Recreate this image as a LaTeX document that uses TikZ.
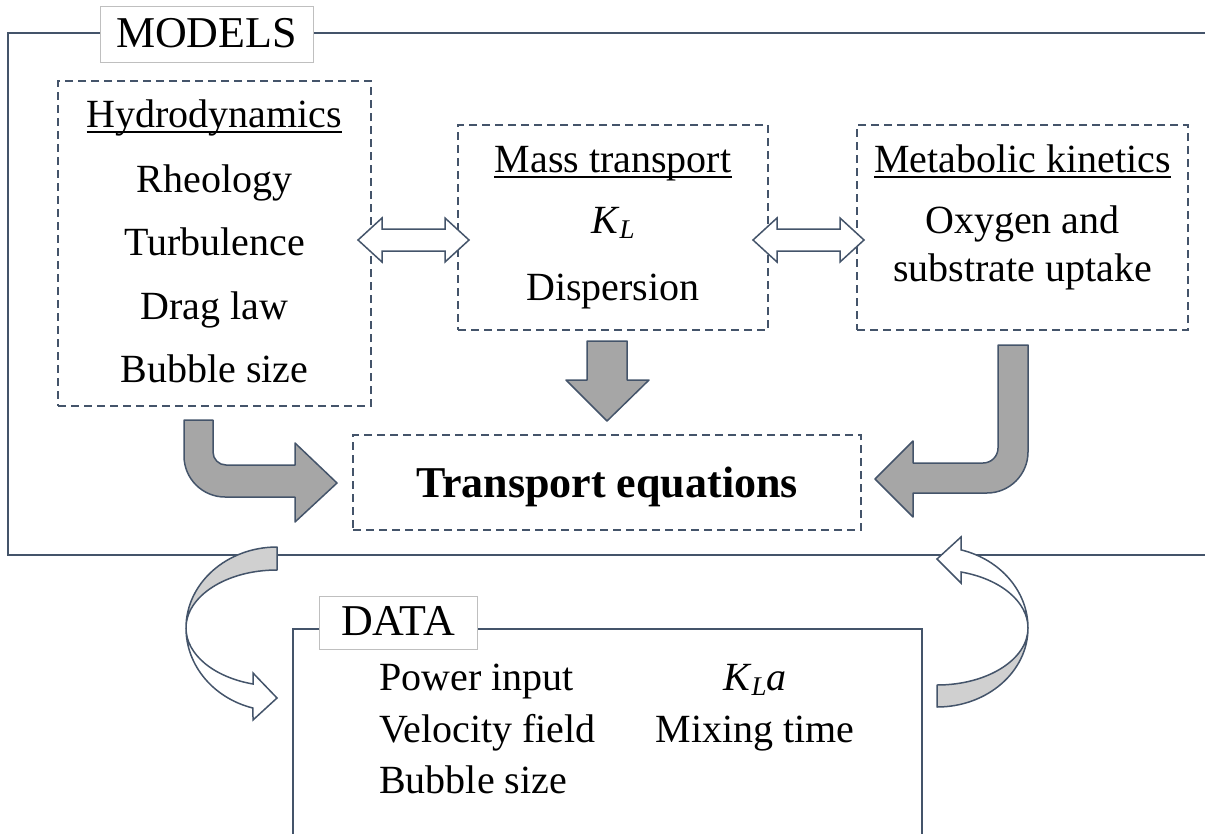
\documentclass[tikz,border=0pt]{standalone}
\usepackage{fontspec}
\setmainfont{Liberation Serif}
\definecolor{slate}{HTML}{44546A}
\definecolor{arrowgrey}{HTML}{A6A6A6}
\definecolor{bandgrey}{HTML}{D0D0D0}
\definecolor{tagline}{HTML}{BFBFBF}
\tikzset{
  frame/.style={draw=slate, line width=2pt},
  dbox/.style={draw=slate, line width=1.8pt, dash pattern=on 8pt off 5pt, inner sep=0pt},
  tag/.style={draw=tagline, fill=white, line width=1pt, inner sep=0pt},
  txt/.style={font=\fontsize{40}{48}\selectfont, inner sep=0pt, anchor=base},
  bigtxt/.style={font=\fontsize{44}{52}\selectfont, inner sep=0pt, anchor=base},
  ulinestyle/.style={line width=1.6pt},
  solidarrow/.style={draw=slate, fill=arrowgrey, line width=1.5pt, line join=round},
  hollowarrow/.style={draw=slate, fill=white, line width=1.5pt, line join=miter},
  bandback/.style={draw=slate, fill=bandgrey, line width=1.5pt, line join=round},
}
\newcommand{\KL}{\textit{K}\raisebox{-0.3ex}{\fontsize{27}{30}\selectfont\textit{L}}}
\begin{document}
\begin{tikzpicture}[x=1pt,y=-1pt]
\useasboundingbox (0,0) rectangle (1205,833);
\clip (0,0) rectangle (1205,833);

% outer frames
\draw[frame] (1215,33) -- (8,33) -- (8,555) -- (1215,555);
\draw[frame] (293,845) -- (293,629) -- (922,629) -- (922,845);

% frame titles
\node[tag, minimum width=213pt, minimum height=56pt] (modelstag) at (206.5,34) {};
\node[bigtxt] (models) at (206.5,47) {MODELS};
\node[tag, minimum width=158pt, minimum height=53pt] (datatag) at (398,622.5) {};
\node[bigtxt] (data) at (398,635) {DATA};

% dashed model boxes
\node[dbox, minimum width=313pt, minimum height=325pt] (hydro) at (214.5,243.5) {};
\node[dbox, minimum width=310pt, minimum height=205pt] (mass) at (613,227.5) {};
\node[dbox, minimum width=331pt, minimum height=205pt] (metab) at (1022.5,227.5) {};
\node[dbox, minimum width=508pt, minimum height=95pt] (transport) at (607,482.5) {};

% hydrodynamics
\node[txt] (hydrotitle) at (214.5,127) {Hydrodynamics};
\draw[ulinestyle] ([yshift=-5pt]hydrotitle.base west) -- ([yshift=-5pt]hydrotitle.base east);
\node[txt] (rheo) at (214.5,192) {Rheology};
\node[txt] (turb) at (214.5,255.5) {Turbulence};
\node[txt] (drag) at (214.5,319) {Drag law};
\node[txt] (bubble) at (214.5,382) {Bubble size};

% mass transport
\node[txt] (masstitle) at (613,172) {Mass transport};
\draw[ulinestyle] ([yshift=-5pt]masstitle.base west) -- ([yshift=-5pt]masstitle.base east);
\node[txt] (kl) at (613,233) {\KL};
\node[txt] (disp) at (613,300) {Dispersion};

% metabolic kinetics
\node[txt] (metabtitle) at (1022.5,172) {Metabolic kinetics};
\draw[ulinestyle] ([yshift=-5pt]metabtitle.base west) -- ([yshift=-5pt]metabtitle.base east);
\node[txt] (oxy) at (1022.5,233) {Oxygen and};
\node[txt] (subs) at (1022.5,281) {substrate uptake};

% transport equations
\node[bigtxt, font=\fontsize{44}{52}\selectfont\bfseries] (eqs) at (607,497) {Transport equations};

% data entries
\node[txt, anchor=base west] (power) at (379,690) {Power input};
\node[txt, anchor=base west] (velo) at (379,742) {Velocity field};
\node[txt, anchor=base west] (bsize) at (379,793) {Bubble size};
\node[txt] (kla) at (755,690) {\KL\textit{a}};
\node[txt] (mix) at (755,742) {Mixing time};

% two-headed coupling arrows
\draw[hollowarrow] (358,240) -- (382,218) -- (382,229) -- (445,229) -- (445,218) -- (469,240)
  -- (445,262) -- (445,251) -- (382,251) -- (382,262) -- cycle;
\draw[hollowarrow] (753,240) -- (777,218) -- (777,229) -- (840,229) -- (840,218) -- (864,240)
  -- (840,262) -- (840,251) -- (777,251) -- (777,262) -- cycle;

% block arrows into the transport equations
\draw[solidarrow] (587,341) -- (627,341) -- (627,380) -- (649,380) -- (607,421) -- (566,380) -- (587,380) -- cycle;
\draw[solidarrow] (184,420) -- (213,420) -- (213,452) .. controls (213,459.2) and (218.8,465) .. (226,465)
  -- (295,465) -- (295,443) -- (337,483) -- (295,522) -- (295,497) -- (225,497)
  .. controls (202.4,497) and (184,478.6) .. (184,456) -- cycle;
\draw[solidarrow] (998,345) -- (1028,345) -- (1028,452) .. controls (1028,474.6) and (1009.6,493) .. (987,493)
  -- (913,493) -- (913,517) -- (875,479) -- (913,441) -- (913,463) -- (983,463)
  .. controls (991.3,463) and (998,456.3) .. (998,448) -- cycle;

% curved arrow from models down to data
\draw[bandback] (277,547) arc[start angle=270, end angle=180, x radius=91, y radius=81]
  arc[start angle=180, end angle=270, x radius=91, y radius=58] -- cycle;
\draw[hollowarrow] (186,628) arc[start angle=180, end angle=105.3, x radius=91, y radius=83]
  -- (253,720) -- (277,698) -- (253,673) -- (253,684)
  arc[start angle=105.3, end angle=180, x radius=91, y radius=58] -- cycle;

% curved arrow from data back up to models
\draw[bandback] (937,707) arc[start angle=90, end angle=0, x radius=91, y radius=79]
  arc[start angle=0, end angle=90, x radius=91, y radius=57] -- cycle;
\draw[hollowarrow] (1028,628) arc[start angle=360, end angle=285.3, x radius=91, y radius=81]
  -- (961,537) -- (937,559) -- (961,583) -- (961,572)
  arc[start angle=285.3, end angle=360, x radius=91, y radius=58] -- cycle;
\end{tikzpicture}
\end{document}
